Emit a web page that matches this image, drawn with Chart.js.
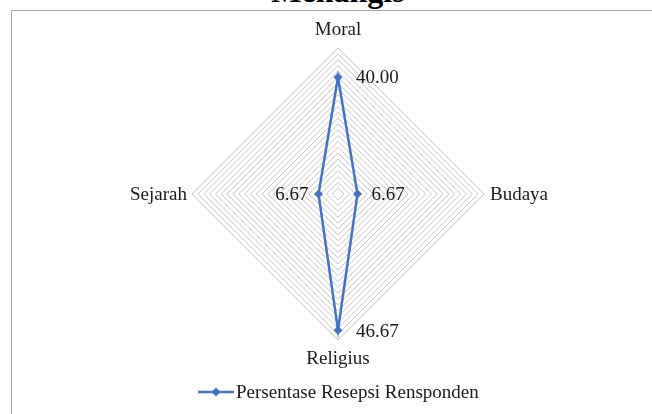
<!DOCTYPE html>
<html>
<head>
<meta charset="utf-8">
<script src="https://cdn.jsdelivr.net/npm/chart.js@4.4.0/dist/chart.umd.min.js"></script>
<style>
  html, body { margin: 0; padding: 0; background: #fff; }
  #wrap { position: relative; width: 652px; height: 414px; overflow: hidden; font-family: "Liberation Serif", "Times New Roman", serif; }
  #frame { position: absolute; left: 11px; top: 10px; width: 660px; height: 420px; border: 1px solid #a6a6a6; box-sizing: border-box; }
  #title { position: absolute; left: 0; width: 676px; text-align: center; top: -27px; font-size: 32px; font-weight: bold; color: #000; white-space: nowrap; }
  #c { position: absolute; left: 0; top: 0; }
  #legend { position: absolute; top: 381px; left: 198px; height: 22px; display: flex; align-items: center; font-size: 19px; color: #1a1a1a; white-space: nowrap; }
</style>
</head>
<body>
<div id="wrap">
  <div id="frame"></div>
  <div id="title">Menangis</div>
  <canvas id="c" width="652" height="414"></canvas>
  <div id="legend"><svg width="38" height="12" style="margin-right:0px"><line x1="0" y1="6" x2="36" y2="6" stroke="#4472C4" stroke-width="2.5"/><polygon points="18,1.5 22.5,6 18,10.5 13.5,6" fill="#4472C4"/></svg><span id="legendText"></span></div>
</div>
<script>
const categories = ["Moral", "Budaya", "Religius", "Sejarah"];
const seriesName = "Persentase Resepsi Rensponden";
const seriesValues = [40.00, 6.67, 46.67, 6.67];
const valueLabels = ["40.00", "6.67", "46.67", "6.67"];
const axisMax = 50;
const axisStep = 2;

document.getElementById('legendText').textContent = seriesName;

const labelFont = '19px "Liberation Serif", "Times New Roman", serif';
const textColor = '#1a1a1a';

const labelPlugin = {
  id: 'labels',
  afterDatasetsDraw(chart) {
    const ctx = chart.ctx;
    const scale = chart.scales.r;
    ctx.save();
    ctx.font = labelFont;
    ctx.fillStyle = textColor;
    const outer = scale.drawingArea;
    categories.forEach((name, i) => {
      const p = scale.getPointPosition(i, outer);
      let x = p.x, y = p.y;
      if (i === 0) { ctx.textAlign = 'center'; ctx.textBaseline = 'middle'; y -= 18; }
      else if (i === 1) { ctx.textAlign = 'left'; ctx.textBaseline = 'middle'; x += 6; y += 1; }
      else if (i === 2) { ctx.textAlign = 'center'; ctx.textBaseline = 'middle'; y += 19; }
      else { ctx.textAlign = 'right'; ctx.textBaseline = 'middle'; x -= 5; y += 1; }
      ctx.fillText(name, x, y);
    });
    const meta = chart.getDatasetMeta(0);
    meta.data.forEach((pt, i) => {
      let x = pt.x, y = pt.y;
      ctx.textBaseline = 'middle';
      if (i === 0) { ctx.textAlign = 'left'; x += 18; y += 1; }
      else if (i === 1) { ctx.textAlign = 'left'; x += 14; y += 1; }
      else if (i === 2) { ctx.textAlign = 'left'; x += 18; y += 2; }
      else { ctx.textAlign = 'right'; x -= 10; y += 1; }
      ctx.fillText(valueLabels[i], x, y);
    });
    ctx.restore();
  }
};

new Chart(document.getElementById('c'), {
  type: 'radar',
  data: {
    labels: categories,
    datasets: [{
      label: seriesName,
      data: seriesValues,
      borderColor: '#4472C4',
      backgroundColor: 'rgba(0,0,0,0)',
      borderWidth: 2.5,
      pointStyle: 'rectRot',
      pointRadius: 4.5,
      pointBackgroundColor: '#4472C4',
      pointBorderColor: '#4472C4',
      pointBorderWidth: 0,
      fill: false,
      tension: 0
    }]
  },
  options: {
    responsive: false,
    animation: false,
    devicePixelRatio: 1,
    layout: { padding: { left: 192, right: 168, top: 48, bottom: 74 } },
    plugins: { legend: { display: false }, title: { display: false }, tooltip: { enabled: false } },
    scales: {
      r: {
        min: 0,
        max: axisMax,
        beginAtZero: true,
        ticks: { display: false, stepSize: axisStep },
        grid: { color: '#c4c4c4', lineWidth: 1 },
        angleLines: { display: false },
        pointLabels: { display: false }
      }
    }
  },
  plugins: [labelPlugin]
});
</script>
</body>
</html>
